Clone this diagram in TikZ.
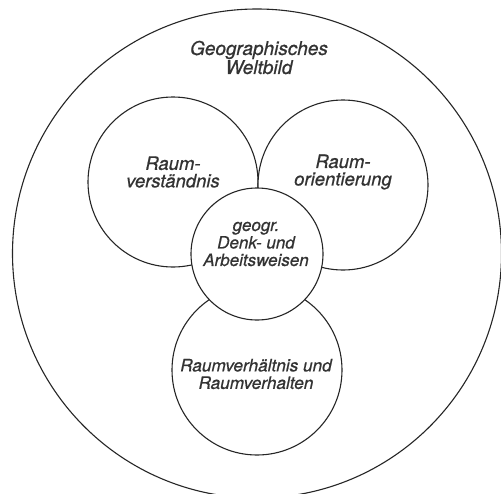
\documentclass[tikz,border=0pt]{standalone}
\usepackage{fontspec}
\setmainfont{TeX Gyre Heros}
% slightly heavier italic for the labels
\newfontfamily\lblfont{TeX Gyre Heros}[ItalicFeatures={FakeBold=0.7}]
\begin{document}
\begin{tikzpicture}[x=1pt,y=-1pt,
  ring/.style={circle,draw=black!85,line width=1.1pt,fill=white,inner sep=0pt,minimum size=#1},
  lbl/.style={align=center,inner sep=0pt,font=\lblfont\itshape\fontsize{#1}{17.5}\selectfont,text=black!80},
  lbl/.default=18.5]
  \clip (0,0) rectangle (501,493);
  \fill[white] (0,0) rectangle (501,493);
  % outer circle: the geographical world view
  \node[ring=489pt] (world) at (257,253.5) {};
  % three overlapping fields
  \node[ring=170pt] (verst) at (173,182) {};
  \node[ring=170pt] (orient) at (343,185) {};
  \node[ring=170pt] (verh) at (257,370) {};
  % central field on top
  \node[ring=132pt] (denk) at (257,254) {};
  % labels
  \node[lbl,font=\lblfont\itshape\fontsize{19}{19}\selectfont] (tworld) at (259,57.5) {Geographisches\\Weltbild};
  \node[lbl] (tverst) at (173,172) {Raum-\\verständnis};
  \node[lbl] (torient) at (343,172) {Raum-\\orientierung};
  \node[lbl=17] (tdenk) at (256,244) {geogr.\\Denk- und\\Arbeitsweisen};
  \node[lbl=17.2] (tverh) at (256,374) {Raumverhältnis und\\Raumverhalten};
\end{tikzpicture}
\end{document}
